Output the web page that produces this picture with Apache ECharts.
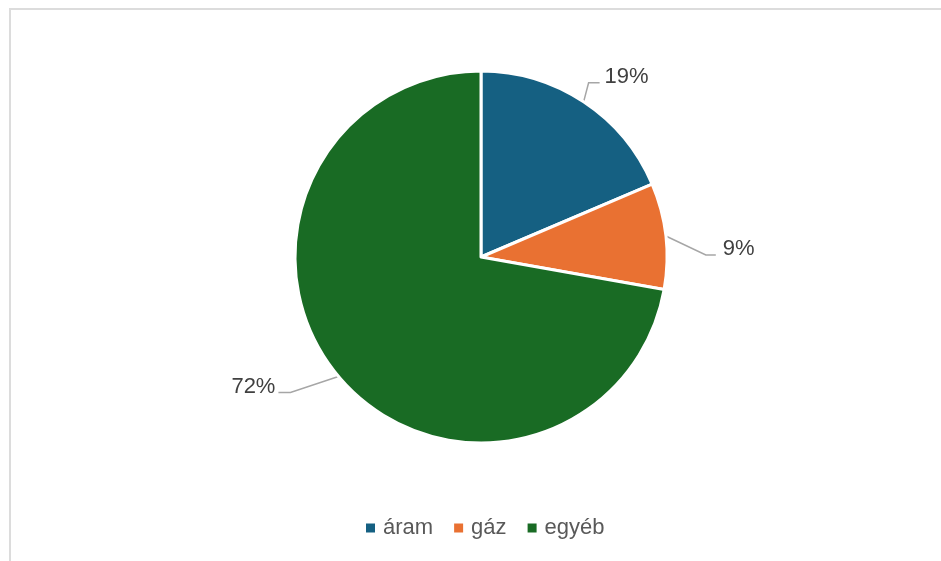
<!DOCTYPE html>
<html><head><meta charset="utf-8">
<script src="https://cdn.jsdelivr.net/npm/echarts@6/dist/echarts.min.js"></script>
<style>html,body{margin:0;padding:0;background:#fff}#c{width:941px;height:561px}</style>
</head><body><div id="c"></div>
<script>
const categories = ['áram', 'gáz', 'egyéb'];
const values = [18.6, 9.2, 72.2];
const colors = ['#156082', '#e97132', '#196b24'];

// leader-line styling per slice: elbow offset from slice edge, horizontal run, gap to text
const leader = [
  {ex: 5, ey: -19, h: 11, gap: 5},
  {ex: 40, ey: 19, h: 10, gap: 7},
  {ex: -48, ey: 16, h: 12, gap: 3}
];

const chart = echarts.init(document.getElementById('c'), null, {renderer: 'canvas'});
chart.setOption({
  animation: false,
  backgroundColor: '#fff',
  graphic: [{
    type: 'rect', shape: {x: 10, y: 9, width: 1000, height: 1000},
    style: {fill: 'none', stroke: '#dcdcdc', lineWidth: 2}, silent: true, z: -1
  }],
  legend: {
    bottom: 17, left: 361,
    itemWidth: 9, itemHeight: 9, itemGap: 21, icon: 'rect',
    itemStyle: {borderWidth: 0},
    textStyle: {fontFamily: 'Liberation Sans', fontSize: 22, color: '#595959', padding: [0, 0, 0, 3]},
    data: categories
  },
  series: [{
    type: 'pie',
    center: [481, 257], radius: 186,
    startAngle: 90, clockwise: true,
    percentPrecision: 0,
    itemStyle: {borderColor: '#fff', borderWidth: 3},
    label: {formatter: '{d}%', fontFamily: 'Liberation Sans', fontSize: 22, color: '#404040'},
    labelLine: {length: 10, length2: 10, lineStyle: {color: '#a6a6a6', width: 1.5}},
    labelLayout: function (p) {
      const L = leader[p.dataIndex];
      const p0 = p.labelLinePoints[0];
      const elbow = [p0[0] + L.ex, p0[1] + L.ey];
      const right = L.ex >= 0;
      const end = [elbow[0] + (right ? L.h : -L.h), elbow[1]];
      return {
        x: end[0] + (right ? L.gap : -L.gap),
        y: end[1] - 6,
        align: right ? 'left' : 'right',
        verticalAlign: 'middle',
        labelLinePoints: [p0, elbow, end]
      };
    },
    data: categories.map((n, i) => ({name: n, value: values[i], itemStyle: {color: colors[i]}}))
  }]
});
</script></body></html>
